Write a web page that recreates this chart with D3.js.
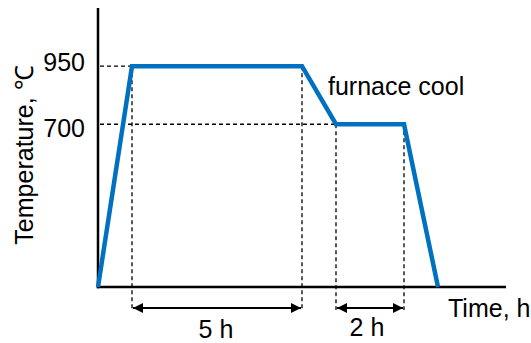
<!DOCTYPE html>
<html>
<head>
<meta charset="utf-8">
<script src="https://cdn.jsdelivr.net/npm/d3@7"></script>
<style>
  html, body { margin: 0; padding: 0; background: #fff; }
  text { font-family: "Liberation Sans", Arial, sans-serif; fill: #000; }
</style>
</head>
<body>
<svg id="chart" width="531" height="343"></svg>
<script>
// Heat-treatment schedule: time (h) vs temperature (°C)
const times = [0, 1, 6, 7, 9, 10];
const temps = [0, 950, 950, 700, 700, 0];
const tempTicks = [950, 700];
const holds = [
  { from: 1, to: 6, label: "5 h" },
  { from: 7, to: 9, label: "2 h" }
];
const stageLabel = "furnace cool";
const xTitle = "Time, h";
const yTitle = "Temperature, ℃";

const svg = d3.select("#chart");
const x = d3.scaleLinear().domain([0, 12]).range([98, 506]);
const y = d3.scaleLinear().domain([0, 1200]).range([287, 8]);
const blue = "#0070C0";
const arrowY = 308, dropY = 310;
const fs = 25;

// arrowheads
const defs = svg.append("defs");
defs.append("marker")
  .attr("id", "head").attr("viewBox", "0 0 10 10")
  .attr("refX", 10).attr("refY", 5)
  .attr("markerWidth", 6).attr("markerHeight", 5)
  .attr("markerUnits", "strokeWidth")
  .attr("orient", "auto-start-reverse")
  .append("path").attr("d", "M0,0L10,5L0,10Z").attr("fill", "#000");

// dashed guides
const guides = svg.append("g")
  .attr("stroke", "#000").attr("stroke-width", 1.3)
  .attr("stroke-dasharray", "4,3").attr("fill", "none");
tempTicks.forEach(t => {
  const i = temps.indexOf(t);
  guides.append("line")
    .attr("x1", x(0) + 2).attr("x2", x(times[i]))
    .attr("y1", y(t)).attr("y2", y(t));
});
holds.forEach(h => {
  [h.from, h.to].forEach(tm => {
    const i = times.indexOf(tm);
    guides.append("line")
      .attr("x1", x(tm)).attr("x2", x(tm))
      .attr("y1", y(temps[i])).attr("y2", dropY);
  });
});

// axes
const axisG = svg.append("g").attr("stroke", "#000").attr("stroke-width", 2.5);
axisG.append("line").attr("x1", x(0)).attr("x2", x(0)).attr("y1", y(1200)).attr("y2", y(0) + 1.25);
axisG.append("line").attr("x1", x(0) - 1.25).attr("x2", x(12)).attr("y1", y(0)).attr("y2", y(0));

// temperature tick labels
const yAxis = d3.axisLeft(y).tickValues(tempTicks).tickSize(0).tickPadding(13);
const yG = svg.append("g").attr("transform", `translate(${x(0)},0)`).call(yAxis);
yG.select(".domain").remove();
yG.selectAll("text")
  .style("font-family", '"Liberation Sans", Arial, sans-serif')
  .attr("font-size", fs)
  .attr("dy", d => d === 950 ? "0.17em" : "0.5em");

// temperature profile
const line = d3.line().x(d => x(d[0])).y(d => y(d[1]));
svg.append("path")
  .datum(times.map((t, i) => [t, temps[i]]))
  .attr("d", line)
  .attr("fill", "none").attr("stroke", blue)
  .attr("stroke-width", 4.5).attr("stroke-linejoin", "miter");

// hold-time arrows and labels
holds.forEach((h, k) => {
  svg.append("line")
    .attr("x1", x(h.from) + 1).attr("x2", x(h.to) - 1)
    .attr("y1", arrowY).attr("y2", arrowY)
    .attr("stroke", "#000").attr("stroke-width", 2)
    .attr("marker-start", "url(#head)").attr("marker-end", "url(#head)");
  svg.append("text")
    .attr("x", (x(h.from) + x(h.to)) / 2 - (k ? 3 : 1))
    .attr("y", k ? 336 : 338)
    .attr("text-anchor", "middle").attr("font-size", fs)
    .text(h.label);
});

// annotations
svg.append("text").attr("x", 328).attr("y", 95).attr("font-size", fs).text(stageLabel);
svg.append("text").attr("x", 448).attr("y", 317).attr("font-size", fs).text(xTitle);
svg.append("text")
  .attr("transform", "translate(33,155) rotate(-90)")
  .attr("text-anchor", "middle").attr("font-size", fs)
  .text(yTitle);
</script>
</body>
</html>
